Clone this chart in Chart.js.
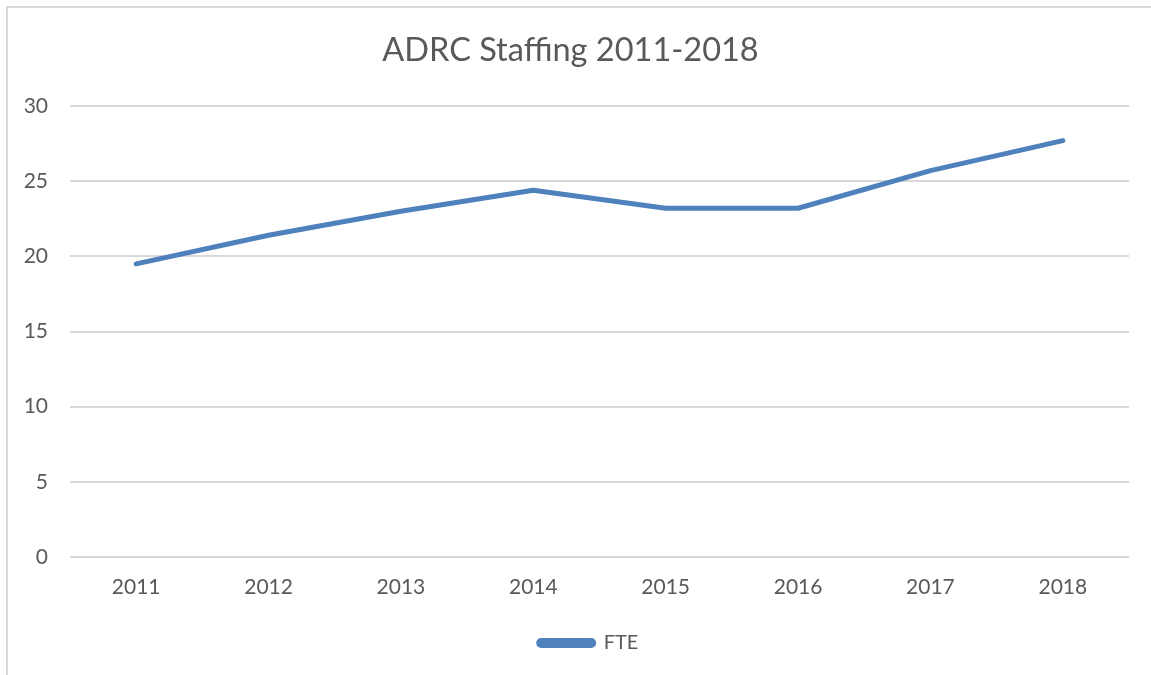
<!DOCTYPE html>
<html>
<head>
<meta charset="utf-8">
<script src="https://cdn.jsdelivr.net/npm/chart.js@4"></script>
<style>
    html, body { margin: 0; padding: 0; background: #fff; }
    #frame {
        position: absolute; left: 6px; top: 6px; width: 1145px; height: 669px;
        border-top: 2px solid #d9d9d9; border-left: 2px solid #d9d9d9;
    }
    #wrap { position: absolute; left: 0; top: 0; width: 1151px; height: 675px; }
</style>
</head>
<body>
<div id="frame"></div>
<div id="wrap"><canvas id="staffChart" width="1151" height="675"></canvas></div>
<script>
// data
const years = ["2011", "2012", "2013", "2014", "2015", "2016", "2017", "2018"];
const fte = [19.5, 21.4, 23.0, 24.4, 23.2, 23.2, 25.7, 27.7];
const yTicks = [0, 5, 10, 15, 20, 25, 30];

const textColor = "#595959";
const lineColor = "#4f81bd";
const font = "Lato, 'Open Sans', sans-serif";

// nudge title / legend a bit to the right, like the original
function shiftBox(box, dx) {
    const orig = box.draw.bind(box);
    box.draw = function (area) {
        box.ctx.save();
        box.ctx.translate(dx, 0);
        orig(area);
        box.ctx.restore();
    };
}

const ctx = document.getElementById("staffChart").getContext("2d");
const chart = new Chart(ctx, {
    type: "line",
    data: {
        labels: years,
        datasets: [{
            label: "FTE",
            data: fte,
            borderColor: lineColor,
            backgroundColor: lineColor,
            borderWidth: 5,
            borderCapStyle: "round",
            borderJoinStyle: "round",
            pointRadius: 0,
            tension: 0
        }]
    },
    options: {
        responsive: false,
        animation: false,
        layout: { padding: { left: 0, right: 22, top: 0, bottom: 12 } },
        scales: {
            x: {
                offset: true,
                grid: { display: false },
                border: { display: false },
                ticks: { color: textColor, font: { family: font, size: 21 }, padding: 10, maxRotation: 0 },
                afterFit: s => { s.height = 64; }
            },
            y: {
                min: 0,
                max: 30,
                afterBuildTicks: s => { s.ticks = yTicks.map(v => ({ value: v })); },
                grid: { color: "#d9d9d9", lineWidth: 2, drawTicks: false },
                border: { display: false },
                ticks: { color: textColor, font: { family: font, size: 21 }, padding: 22 },
                afterFit: s => { s.width = 70; }
            }
        },
        plugins: {
            title: {
                display: true,
                text: "ADRC Staffing 2011-2018",
                color: textColor,
                font: { family: font, size: 32.5, weight: "normal" },
                padding: { top: 31, bottom: 36 }
            },
            legend: {
                position: "bottom",
                labels: {
                    color: textColor,
                    font: { family: font, size: 20 },
                    boxWidth: 55,
                    boxHeight: 5,
                    useBorderRadius: true,
                    borderRadius: 2.5,
                    padding: 12
                }
            },
            tooltip: { enabled: false }
        }
    }
});
shiftBox(chart.titleBlock, 6);
shiftBox(chart.legend, 24);
chart.draw();
</script>
</body>
</html>
